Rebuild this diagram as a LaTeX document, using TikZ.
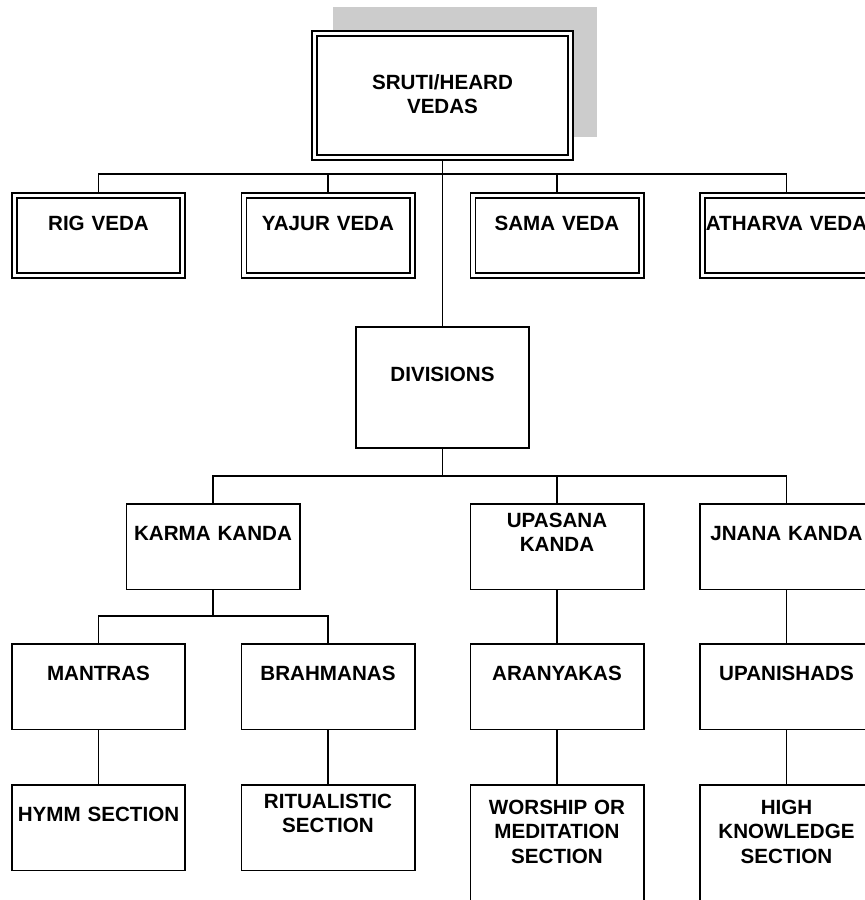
\documentclass[tikz,border=0pt]{standalone}
\usepackage{fontspec}
\setmainfont{Liberation Sans}
\usepackage{xcolor}
\usepackage{tikz}
\usetikzlibrary{backgrounds}

\definecolor{shadowgray}{gray}{0.8}

\tikzset{
  box/.style={draw, line width=1.6pt, fill=white, inner sep=0pt, outer sep=0pt,
    text width=173.4pt, align=center, anchor=north,
    font=\bfseries\fontsize{20.6}{24.5}\selectfont},
  dbox/.style={box, double, double distance=3.4pt, text width=168.4pt},
  oneline/.style={text height=36.5pt, text depth=49pt},
  twoline/.style={text height=23.5pt, text depth=62pt},
  link/.style={line width=1.5pt},
}

\begin{document}
\begin{tikzpicture}[x=1pt, y=-1pt]
  \useasboundingbox (0,0) rectangle (865,900);
  \clip (0,0) rectangle (865,900);
  \node[dbox, text width=256.4pt, text height=55.7pt, text depth=68.4pt] (sruti) at (442.5,33.3) {SRUTI/HEARD\\VEDAS};
  \node[dbox, text height=34.7pt, text depth=45.7pt] (rig) at (98.5,195.3) {RIG VEDA};
  \node[dbox, text height=34.7pt, text depth=45.7pt] (yajur) at (328,195.3) {YAJUR VEDA};
  \node[dbox, text height=34.7pt, text depth=45.7pt] (sama) at (557,195.3) {SAMA VEDA};
  \node[dbox, text height=34.7pt, text depth=45.7pt] (atharva) at (786.5,195.3) {ATHARVA VEDA};
  \node[box, text height=54.9pt, text depth=66.5pt] (divisions) at (442.5,326.8) {DIVISIONS};
  \node[box, oneline] (karma) at (213,503.8) {KARMA KANDA};
  \node[box, twoline] (upasana) at (557,503.8) {UPASANA\\KANDA};
  \node[box, oneline] (jnana) at (786.5,503.8) {JNANA KANDA};
  \node[box, oneline] (mantras) at (98.5,643.8) {MANTRAS};
  \node[box, oneline] (brahmanas) at (328,643.8) {BRAHMANAS};
  \node[box, oneline] (aranyakas) at (557,643.8) {ARANYAKAS};
  \node[box, oneline] (upanishads) at (786.5,643.8) {UPANISHADS};
  \node[box, oneline] (hymm) at (98.5,784.8) {HYMM SECTION};
  \node[box, twoline] (ritual) at (328,784.8) {RITUALISTIC\\SECTION};
  \node[box, text height=29.2pt, text depth=120pt] (worship) at (557,784.8) {WORSHIP OR\\MEDITATION\\SECTION};
  \node[box, text height=29.2pt, text depth=120pt] (high) at (786.5,784.8) {HIGH\\KNOWLEDGE\\SECTION};

  \coordinate (bus1) at (442.5,174);
  \coordinate (bus2) at (442.5,476);
  \coordinate (bus3) at (213,616);

  \begin{scope}[on background layer]
    \fill[shadowgray] ([shift={(18.7,-20.7)}]sruti.south west) rectangle ([shift={(26.3,-26.3)}]sruti.north east);
    \draw[link] (sruti.south) -- (divisions.north);
    \draw[link] (rig.north) |- (bus1) -| (atharva.north);
    \draw[link] (yajur.north) -- (yajur.north |- bus1);
    \draw[link] (sama.north) -- (sama.north |- bus1);
    \draw[link] (divisions.south) -- (bus2);
    \draw[link] (karma.north) |- (bus2) -| (jnana.north);
    \draw[link] (upasana.north) -- (upasana.north |- bus2);
    \draw[link] (karma.south) -- (bus3);
    \draw[link] (mantras.north) |- (bus3) -| (brahmanas.north);
    \draw[link] (upasana.south) -- (aranyakas.north);
    \draw[link] (jnana.south) -- (upanishads.north);
    \draw[link] (mantras.south) -- (hymm.north);
    \draw[link] (brahmanas.south) -- (ritual.north);
    \draw[link] (aranyakas.south) -- (worship.north);
    \draw[link] (upanishads.south) -- (high.north);
  \end{scope}
\end{tikzpicture}
\end{document}
